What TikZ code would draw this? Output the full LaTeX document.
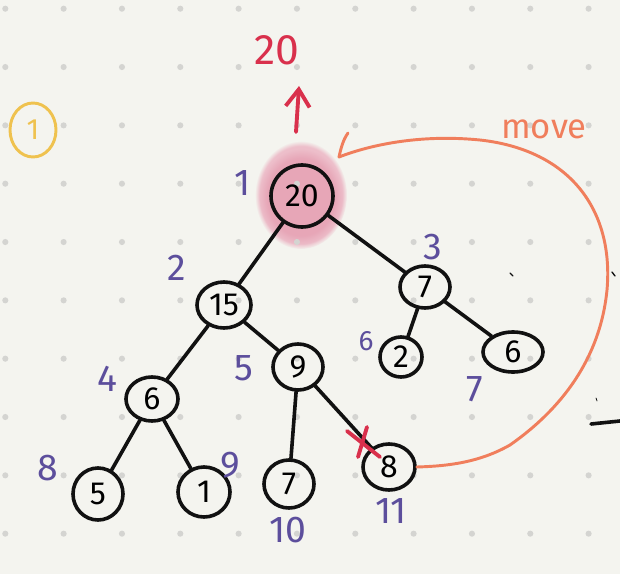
\documentclass[tikz,border=0pt]{standalone}
\usepackage{fontspec}
\setmainfont{Fira Sans}
\usetikzlibrary{shapes.geometric,arrows.meta,fadings}
\definecolor{paper}{HTML}{F4F4EF}
\definecolor{griddot}{HTML}{D4D4D1}
\definecolor{ink}{HTML}{111111}
\definecolor{idx}{HTML}{5C4E9C}
\definecolor{hot}{HTML}{D9304C}
\definecolor{swapline}{HTML}{F07E5C}
\definecolor{stagecol}{HTML}{EFC24F}
\definecolor{glow}{HTML}{E6A2B4}
\begin{document}
\begin{tikzpicture}[x=0.75pt,y=-0.75pt,
  heapnode/.style={ellipse, draw=ink, line width=2.7pt, inner sep=0pt,
                   font=\fontsize{24}{24}\selectfont},
  branch/.style={draw=ink, line width=2.7pt, line cap=round},
  idxlabel/.style={text=idx, inner sep=0pt, font=\fontsize{28}{28}\selectfont},
  swapstroke/.style={draw=swapline, line width=2.2pt, line cap=round, line join=round},
]
% paper and its dot grid
\fill[paper] (0,0) rectangle (620,574);
\useasboundingbox (0,0) rectangle (620,574);

% soft highlight behind the root
\fill[glow!70!white, path fading=circle with fuzzy edge 10 percent] (301,195) ellipse [x radius=46, y radius=54];
\fill[glow, opacity=0.85, path fading=circle with fuzzy edge 20 percent] (301,197) ellipse [x radius=42, y radius=48];

\foreach \i in {0,...,10}
  \foreach \j in {0,...,9}
    \fill[griddot] (5.3+58.33*\i, 8.7+58.33*\j) circle (2.3pt);

% heap nodes
\node[heapnode, minimum width=46.5pt, minimum height=46.5pt] (r1) at (302,196) {20};
\node[heapnode, minimum width=40.5pt, minimum height=34.5pt] (r2) at (224,305) {15};
\node[heapnode, minimum width=37.5pt, minimum height=31.5pt] (r3) at (425,287) {7};
\node[heapnode, minimum width=39pt,   minimum height=33pt]   (r4) at (152,399) {6};
\node[heapnode, minimum width=37.5pt, minimum height=34.5pt] (r5) at (298,367) {9};
\node[heapnode, minimum width=31.5pt, minimum height=30pt]   (r6) at (401,357) {2};
\node[heapnode, minimum width=45pt,   minimum height=30pt]   (r7) at (513,352) {6};
\node[heapnode, minimum width=37.5pt, minimum height=39pt]   (r8) at (98,494) {5};
\node[heapnode, minimum width=39pt,   minimum height=37.5pt] (r9) at (204,492) {1};
\node[heapnode, minimum width=37.5pt, minimum height=36pt]   (r10) at (289,484) {7};
\node[heapnode, minimum width=39pt,   minimum height=34.5pt] (r11) at (389,467) {8};

% tree edges
\draw[branch] (r1) -- (r2);
\draw[branch] (r1) -- (r3);
\draw[branch] (r2) -- (r4);
\draw[branch] (r2) -- (r5);
\draw[branch] (r3) -- (r6);
\draw[branch] (r3) -- (r7);
\draw[branch] (r4) -- (r8);
\draw[branch] (r4) -- (r9);
\draw[branch] (r5) -- (r10);
\draw[branch] (r5) -- (r11);

% array indices
\node[idxlabel] (l1) at (243,183) {1};
\node[idxlabel] (l2) at (177,268) {2};
\node[idxlabel] (l3) at (433,247) {3};
\node[idxlabel] (l4) at (107,379) {4};
\node[idxlabel] (l5) at (244,368) {5};
\node[idxlabel, font=\fontsize{21}{21}\selectfont] (l6) at (366,341) {6};
\node[idxlabel] (l7) at (475,389) {7};
\node[idxlabel] (l8) at (48,468) {8};
\node[idxlabel] (l9) at (230,465) {9};
\node[idxlabel] (l10) at (288,530) {10};
\node[idxlabel] (l11) at (391,511) {11};

% extracted maximum
\node[text=hot, inner sep=0pt, font=\fontsize{32}{32}\selectfont] (out) at (277,50) {20};
\coordinate (outfoot) at (296,132);
\coordinate (outtip) at (299,86);
\draw[hot, line width=2.9pt, line cap=round, -{Straight Barb[length=13pt,width=18pt,line width=2.9pt]}] (outfoot) -- (outtip);

% the removed link
\draw[hot, line width=2.9pt, line cap=round] (347,431) -- (380,457);
\draw[hot, line width=2.9pt, line cap=round] (367,427) -- (358,457);

% last element moves to the root
\coordinate (movetip) at (339,157);
\draw[swapstroke] (r11.east) .. controls (450,466) and (480,462) .. (510,445)
  .. controls (560,410) and (600,360) .. (607,290)
  .. controls (614,210) and (570,150) .. (480,140)
  .. controls (420,134) and (370,145) .. (movetip);
\draw[swapstroke] (movetip) .. controls (341,148) and (343,140) .. (348,133);
\node[text=swapline, inner sep=0pt, font=\fontsize{26}{26}\selectfont] (movelbl) at (544,129) {move};

% step number
\node[ellipse, draw=stagecol, line width=2.2pt, text=stagecol, inner sep=0pt,
      minimum width=34.5pt, minimum height=40.5pt, font=\fontsize{22}{22}\selectfont] (stage) at (33,130) {1};

% stray pen marks
\draw[ink, line width=2.7pt, line cap=round] (591,424) -- (620,421);
\draw[ink, line width=1pt, line cap=round] (510,273) -- (513,276);
\draw[ink, line width=1pt, line cap=round] (612,272) -- (615,276);
\draw[ink, line width=0.6pt, line cap=round] (596,398) -- (597,401);
\end{tikzpicture}
\end{document}
